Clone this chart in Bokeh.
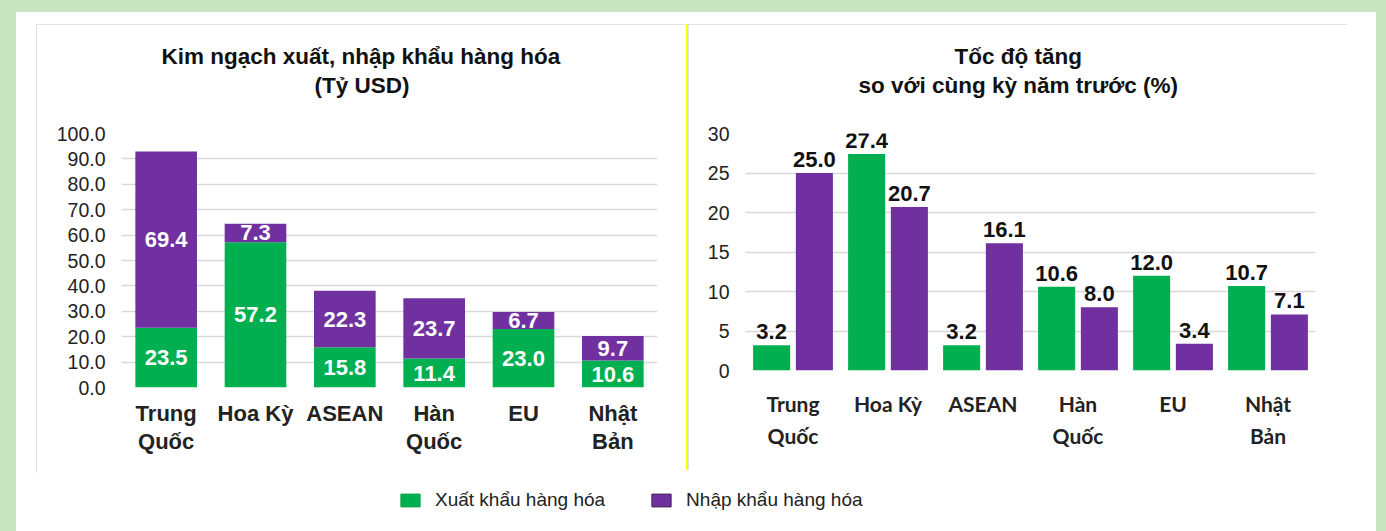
from bokeh.plotting import figure
from bokeh.models import (ColumnDataSource, FixedTicker, PrintfTickFormatter, Legend, LegendItem,
                          Range1d, FactorRange, Spacer, Title, CategoricalAxis,
                          CustomJSTickFormatter)
from bokeh.layouts import column, row
from bokeh.transform import dodge
from bokeh.core.properties import value
from bokeh.embed import file_html
from bokeh.resources import INLINE

# ---------------- data ----------------
categories = ["Trung Quốc", "Hoa Kỳ", "ASEAN", "Hàn Quốc", "EU", "Nhật Bản"]
label_line1 = ["Trung", "Hoa Kỳ", "ASEAN", "Hàn", "EU", "Nhật"]
label_line2 = ["Quốc", "", "", "Quốc", "", "Bản"]
export_value = [23.5, 57.2, 15.8, 11.4, 23.0, 10.6]      # Tỷ USD
import_value = [69.4, 7.3, 22.3, 23.7, 6.7, 9.7]         # Tỷ USD
export_growth = [3.2, 27.4, 3.2, 10.6, 12.0, 10.7]       # %
import_growth = [25.0, 20.7, 16.1, 8.0, 3.4, 7.1]        # %
left_ticks = [0, 10, 20, 30, 40, 50, 60, 70, 80, 90, 100]
right_ticks = [0, 5, 10, 15, 20, 25, 30]
series_names = ["Xuất khẩu hàng hóa", "Nhập khẩu hàng hóa"]
left_title = ["Kim ngạch xuất, nhập khẩu hàng hóa", "(Tỷ USD)"]
right_title = ["Tốc độ tăng", "so với cùng kỳ năm trước (%)"]

GREEN = "#00b050"
PURPLE = "#7030a0"
BG = "#c9e6c0"
GRID = "#d9d9d9"
FONT = "Liberation Sans"
TXT = "#222222"
BOX = {"outline": "1px solid #d9d9d9", "outline-offset": "-1px", "z-index": "2"}

line1_map = dict(zip(categories, label_line1))
line2_map = dict(zip(categories, label_line2))


def style_axis(ax, font, size, standoff):
    ax.axis_line_color = None
    ax.major_tick_line_color = None
    ax.minor_tick_line_color = None
    ax.major_tick_out = 0
    ax.major_tick_in = 0
    ax.major_label_standoff = standoff
    ax.major_label_text_font = font
    ax.major_label_text_font_size = size
    ax.major_label_text_color = TXT


def add_titles(p, lines, size, offsets):
    p.title.visible = False
    # nearest to the frame is added first
    p.add_layout(Title(text=lines[1], align="left", text_font=FONT, text_font_size=size,
                       text_font_style="bold", text_color="#111111", standoff=72,
                       offset=offsets[1]), "above")
    p.add_layout(Title(text=lines[0], align="left", text_font=FONT, text_font_size=size,
                       text_font_style="bold", text_color="#111111", standoff=-69,
                       offset=offsets[0]), "above")


def add_category_axes(p, font, size, standoff1, standoff2):
    ax1 = p.xaxis[0]
    ax1.formatter = CustomJSTickFormatter(args=dict(m=line1_map), code="return m[tick]")
    style_axis(ax1, font, size, standoff1)
    ax1.major_label_text_font_style = "bold"
    ax2 = CategoricalAxis(formatter=CustomJSTickFormatter(args=dict(m=line2_map), code="return m[tick]"))
    style_axis(ax2, font, size, standoff2)
    ax2.major_label_text_font_style = "bold"
    p.add_layout(ax2, "below")


# ---------------- left chart: stacked values ----------------
src_left = ColumnDataSource(dict(
    cat=categories,
    exp=export_value,
    imp=import_value,
    exp_mid=[e / 2 for e in export_value],
    imp_mid=[e + i / 2 for e, i in zip(export_value, import_value)],
    exp_txt=[f"{v:.1f}" for v in export_value],
    imp_txt=[f"{v:.1f}" for v in import_value],
))

left = figure(width=650, height=449, x_range=FactorRange(*categories), y_range=Range1d(0, 100),
              output_backend="svg", toolbar_location=None,
              min_border_left=85, min_border_right=29, min_border_top=109, min_border_bottom=86,
              outline_line_color=None)
add_titles(left, left_title, "22.5px", [40, 193])

left.vbar_stack(["exp", "imp"], x="cat", width=0.69, color=[GREEN, PURPLE], source=src_left,
                line_color=None)
left.text(x="cat", y="exp_mid", text="exp_txt", source=src_left, text_color="white",
          text_font=value(FONT), text_font_style="bold", text_font_size="22px",
          text_align="center", text_baseline="middle")
left.text(x="cat", y="imp_mid", text="imp_txt", source=src_left, text_color="white",
          text_font=value(FONT), text_font_style="bold", text_font_size="22px",
          text_align="center", text_baseline="middle")

left.yaxis.ticker = FixedTicker(ticks=left_ticks)
left.yaxis.formatter = PrintfTickFormatter(format="%.1f")
style_axis(left.yaxis[0], FONT, "19.5px", 16)
add_category_axes(left, FONT, "22px", 13, 0)
left.xgrid.grid_line_color = None
left.ygrid.grid_line_color = GRID
left.ygrid.grid_line_width = 1.5

# ---------------- right chart: growth rates ----------------
src_right = ColumnDataSource(dict(
    cat=categories,
    exg=export_growth,
    img=import_growth,
    exg_txt=[f"{v:.1f}" for v in export_growth],
    img_txt=[f"{v:.1f}" for v in import_growth],
))

right = figure(width=659, height=446, x_range=FactorRange(*categories), y_range=Range1d(0, 30),
               output_backend="svg", toolbar_location=None,
               min_border_left=57, min_border_right=32, min_border_top=109, min_border_bottom=100,
               outline_line_color=None)
add_titles(right, right_title, "22.5px", [209, 113])

right.vbar(x=dodge("cat", -0.225, range=right.x_range), top="exg", width=0.39, color=GREEN,
           line_color=None, source=src_right)
right.vbar(x=dodge("cat", 0.225, range=right.x_range), top="img", width=0.39, color=PURPLE,
           line_color=None, source=src_right)
right.text(x=dodge("cat", -0.225, range=right.x_range), y="exg", text="exg_txt", source=src_right,
           text_color="#111111", text_font=value(FONT), text_font_style="bold",
           text_font_size="22px", text_align="center", text_baseline="bottom", y_offset=-6)
right.text(x=dodge("cat", 0.225, range=right.x_range), y="img", text="img_txt", source=src_right,
           text_color="#111111", text_font=value(FONT), text_font_style="bold",
           text_font_size="22px", text_align="center", text_baseline="bottom", y_offset=-6)

right.yaxis.ticker = FixedTicker(ticks=right_ticks)
style_axis(right.yaxis[0], FONT, "19.5px", 16)
add_category_axes(right, "Lato", "21px", 20, 4)
right.xgrid.grid_line_color = None
right.ygrid.grid_line_color = GRID
right.ygrid.grid_line_width = 1.5

# ---------------- legend strip ----------------
leg = figure(width=1360, height=52, x_range=Range1d(0, 1), y_range=Range1d(0, 1),
             output_backend="svg", toolbar_location=None, x_axis_type=None, y_axis_type=None,
             min_border=0, outline_line_color=None, margin=(4, 0, 0, 0),
             background_fill_alpha=0, border_fill_alpha=0)
leg.xgrid.grid_line_color = None
leg.ygrid.grid_line_color = None
empty = ColumnDataSource(dict(x=[0], top=[0]))
r_exp = leg.vbar(x="x", top="top", width=0, color=GREEN, line_color="#00a040", source=empty)
r_imp = leg.vbar(x="x", top="top", width=0, color=PURPLE, line_color="#3a1a55", source=empty)
legend = Legend(items=[LegendItem(label=series_names[0], renderers=[r_exp]),
                       LegendItem(label=series_names[1], renderers=[r_imp])],
                orientation="horizontal", location=(382, 18),
                glyph_width=24, glyph_height=16, label_standoff=13, spacing=44,
                padding=0, margin=0, border_line_color=None, background_fill_alpha=0,
                label_text_font=FONT, label_text_font_size="19px", label_text_color=TXT)
leg.add_layout(legend, "center")

yellow = Spacer(width=2, height=446, styles={"background-color": "#ffff00"})
left_box = column(left, width=650, height=449, styles=BOX)
right_box = column(right, width=659, height=446, styles=BOX)
chart_row = row(left_box, yellow, right_box, margin=(12, 0, 0, 20))
panel = column(chart_row, leg, width=1360, height=519, margin=(12, 10, 0, 16),
               styles={"background-color": "white"})
root = column(panel, width=1386, height=531, styles={"background-color": BG})

open("out.html", "w").write(file_html(root, INLINE))
